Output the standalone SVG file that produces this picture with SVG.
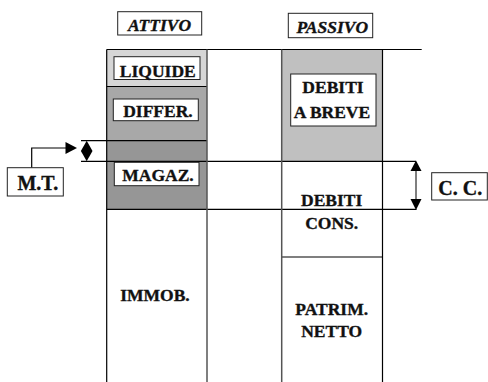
<svg xmlns="http://www.w3.org/2000/svg" width="488" height="382" viewBox="0 0 488 382">
<style>
text{font-family:"Liberation Serif","Times New Roman",serif;font-weight:bold;font-size:17.5px;fill:#111;stroke:#111;stroke-width:0.35;text-anchor:middle}
.it{font-style:italic}
.big{font-size:20px}
.box{fill:#fff;stroke:#222;stroke-width:1}
.ln{stroke:#000;stroke-width:1.2;fill:none}
.gl{stroke:#555;stroke-width:1.5;fill:none}
.ah{fill:#000}
</style>
<rect width="488" height="382" fill="#fff"/>
<g id="col-attivo">
<rect x="106.7" y="49.5" width="100.3" height="37" fill="#d6d6d6"/>
<rect x="106.7" y="86.5" width="100.3" height="54.2" fill="#a8a8a8"/>
<rect x="106.7" y="140.7" width="100.3" height="68.6" fill="#969696"/>
</g>
<g id="col-passivo">
<rect x="281.7" y="49.5" width="100.8" height="112" fill="#c0c0c0"/>
</g>
<g id="connectors">
<line class="ln" x1="207" y1="49.5" x2="421.7" y2="49.5"/>
<line class="ln" x1="106.7" y1="49.5" x2="207" y2="49.5"/>
<line class="ln" x1="106.7" y1="86.5" x2="207" y2="86.5"/>
<line class="ln" x1="81" y1="140.7" x2="207" y2="140.7"/>
<line class="ln" x1="81" y1="161.3" x2="416" y2="161.3"/>
<line class="ln" x1="106.7" y1="209.3" x2="416.5" y2="209.3"/>
<line class="gl" x1="281.7" y1="257" x2="382.5" y2="257"/>
<line class="ln" x1="106.7" y1="49.5" x2="106.7" y2="382"/>
<line class="gl" x1="207" y1="49.5" x2="207" y2="382"/>
<line class="gl" x1="281.7" y1="49.5" x2="281.7" y2="382"/>
<line class="ln" x1="382.5" y1="49.5" x2="382.5" y2="382"/>
<polygon class="ah" points="86.7,140.7 92.5,151 86.7,161.3 80.9,151"/>
<polyline class="ln" points="31.7,167.7 31.7,148 67,148"/>
<polygon class="ah" points="65.5,142 77,148 65.5,154"/>
<line class="gl" x1="416" y1="168" x2="416" y2="202"/>
<polygon class="ah" points="416,160.5 421.5,171 410.5,171"/>
<polygon class="ah" points="416,210 421.5,199 410.5,199"/>
</g>
<g id="attivo"><rect class="box" x="117.7" y="11.7" width="84" height="23.3"/><text class="it" x="159.5" y="30.7">ATTIVO</text></g>
<g id="passivo"><rect class="box" x="288.3" y="13.3" width="84.4" height="24.4"/><text class="it" x="332.3" y="33.3">PASSIVO</text></g>
<g id="liquide"><rect class="box" x="114" y="56.7" width="86" height="22.8"/><text x="157.8" y="76.7">LIQUIDE</text></g>
<g id="differ"><rect class="box" x="113.3" y="99" width="85" height="21.7"/><text x="158" y="117.3">DIFFER.</text></g>
<g id="magaz"><rect class="box" x="114.3" y="162.3" width="84.7" height="23.4"/><text x="158" y="181">MAGAZ.</text></g>
<g id="immob"><text x="155" y="300.7">IMMOB.</text></g>
<g id="debiti-breve"><rect class="box" x="290.7" y="74" width="85.3" height="52"/><text x="333" y="92.7">DEBITI</text><text x="332" y="118.3">A BREVE</text></g>
<g id="debiti-cons"><text x="331.7" y="206">DEBITI</text><text x="331.7" y="229">CONS.</text></g>
<g id="patrim"><text x="331.7" y="315">PATRIM.</text><text x="331.7" y="337.3">NETTO</text></g>
<g id="mt"><rect class="box" x="7.3" y="167.7" width="56" height="28.3"/><text class="big" x="37.8" y="190">M.T.</text></g>
<g id="cc"><rect class="box" x="431.7" y="172.7" width="55.6" height="27.3"/><text class="big" x="460.3" y="195">C. C.</text></g>
</svg>
